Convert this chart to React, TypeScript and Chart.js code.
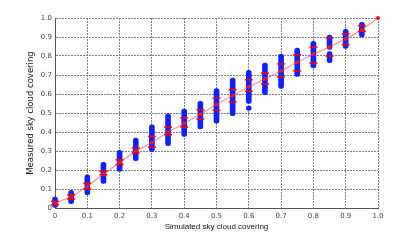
import React, { useEffect, useRef } from "react";
import { Chart, registerables } from "chart.js";

Chart.register(...registerables);

// Red mean line
const lineX = [0, 0.05, 0.1, 0.15, 0.2, 0.25, 0.3, 0.35, 0.4, 0.45, 0.5, 0.55, 0.6, 0.65, 0.7, 0.75, 0.8, 0.85, 0.9, 0.95, 1];
const lineY = [0.026, 0.058, 0.114, 0.178, 0.24, 0.298, 0.345, 0.4, 0.445, 0.494, 0.545, 0.592, 0.638, 0.68, 0.722, 0.767, 0.81, 0.847, 0.89, 0.937, 1.0];

// Blue measured ranges (segments)
const blueX = [0, 0.05, 0.1, 0.15, 0.2, 0.25, 0.3, 0.35, 0.4, 0.45, 0.5, 0.55, 0.6, 0.6, 0.65, 0.7, 0.75, 0.8, 0.85, 0.85, 0.9, 0.95];
const blueLo = [0.0, 0.023, 0.07, 0.13, 0.193, 0.249, 0.298, 0.328, 0.377, 0.416, 0.447, 0.486, 0.55, 0.514, 0.596, 0.63, 0.693, 0.737, 0.835, 0.765, 0.84, 0.9];
const blueHi = [0.058, 0.093, 0.175, 0.24, 0.303, 0.368, 0.438, 0.495, 0.521, 0.561, 0.628, 0.684, 0.724, 0.536, 0.763, 0.81, 0.842, 0.877, 0.91, 0.823, 0.94, 0.977];

// Red caps (upper / lower)
const capX = [0, 0.05, 0.1, 0.15, 0.2, 0.25, 0.3, 0.35, 0.4, 0.45, 0.5, 0.55, 0.6, 0.65, 0.7, 0.75, 0.8, 0.85, 0.9, 0.95];
const capHi = [0.035, 0.07, 0.13, 0.193, 0.254, 0.316, 0.377, 0.426, 0.474, 0.517, 0.579, 0.623, 0.675, 0.71, 0.758, 0.807, 0.847, 0.895, 0.917, 0.96];
const capLo = [0.018, 0.047, 0.1, 0.175, 0.228, 0.29, 0.32, 0.386, 0.426, 0.468, 0.514, 0.558, 0.614, 0.653, 0.69, 0.722, 0.763, 0.8, 0.86, 0.93];

const xTitle = "Simulated sky cloud covering";
const yTitle = "Measured sky cloud covering";

export default function App() {
  const ref = useRef<HTMLCanvasElement | null>(null);

  useEffect(() => {
    document.body.style.margin = "0";
    const canvas = ref.current;
    if (!canvas) return;

    const caps = [
      ...capX.map((x, i) => ({ x, y: capHi[i] })),
      ...capX.map((x, i) => ({ x, y: capLo[i] })),
    ];

    const chart = new Chart(canvas, {
      type: "scatter",
      data: {
        datasets: [
          {
            type: "bar",
            data: blueX.map((x, i) => ({ x, y: [blueLo[i], blueHi[i]] })) as any,
            backgroundColor: "#1020ff",
            borderWidth: 0,
            barThickness: 5,
            borderRadius: 2.5,
            borderSkipped: false,
            clip: false,
            order: 3,
          } as any,
          {
            type: "line",
            data: lineX.map((x, i) => ({ x, y: lineY[i] })),
            borderColor: "rgba(255,70,70,0.55)",
            borderWidth: 1.3,
            pointRadius: 2,
            pointBackgroundColor: "#ff1010",
            pointBorderWidth: 0,
            clip: false,
            order: 2,
          },
          {
            type: "scatter",
            data: caps,
            pointStyle: "line",
            pointRadius: 4,
            borderColor: "#ff0000",
            borderWidth: 1.5,
            clip: false,
            order: 1,
          } as any,
        ],
      },
      options: {
        animation: false,
        responsive: false,
        devicePixelRatio: 1,
        layout: { padding: { top: 18, right: 39, left: 26, bottom: 9 } },
        plugins: { legend: { display: false }, tooltip: { enabled: false } },
        scales: {
          x: {
            type: "linear",
            min: 0,
            max: 1,
            offset: false,
            ticks: {
              stepSize: 0.1,
              font: { size: 7, family: "DejaVu Sans" },
              color: "#444",
              padding: 4,
              maxRotation: 0,
            },
            grid: { color: "#808080", drawTicks: false, offset: false, lineWidth: 1 },
            border: { color: "#555", width: 1, dash: [2, 1] },
            title: {
              display: true,
              text: xTitle,
              font: { size: 8, family: "Liberation Sans" },
              color: "#111",
              padding: { top: 3, bottom: 0 },
            },
            afterFit: (s: any) => {
              s.height = 24;
            },
          },
          y: {
            type: "linear",
            min: 0,
            max: 1,
            ticks: {
              stepSize: 0.1,
              font: { size: 7, family: "DejaVu Sans" },
              color: "#444",
              padding: 3,
            },
            grid: { color: "#808080", drawTicks: false, lineWidth: 1 },
            border: { color: "#555", width: 1, dash: [2, 1] },
            title: {
              display: true,
              text: yTitle,
              font: { size: 8.5, family: "DejaVu Sans" },
              color: "#111",
              padding: { top: 0, bottom: 0 },
            },
            afterFit: (s: any) => {
              s.width = 29;
            },
          },
        },
      } as any,
    });

    return () => chart.destroy();
  }, []);

  return (
    <div style={{ width: 417, height: 241, background: "#fff" }}>
      <canvas ref={ref} width={417} height={241} />
    </div>
  );
}
